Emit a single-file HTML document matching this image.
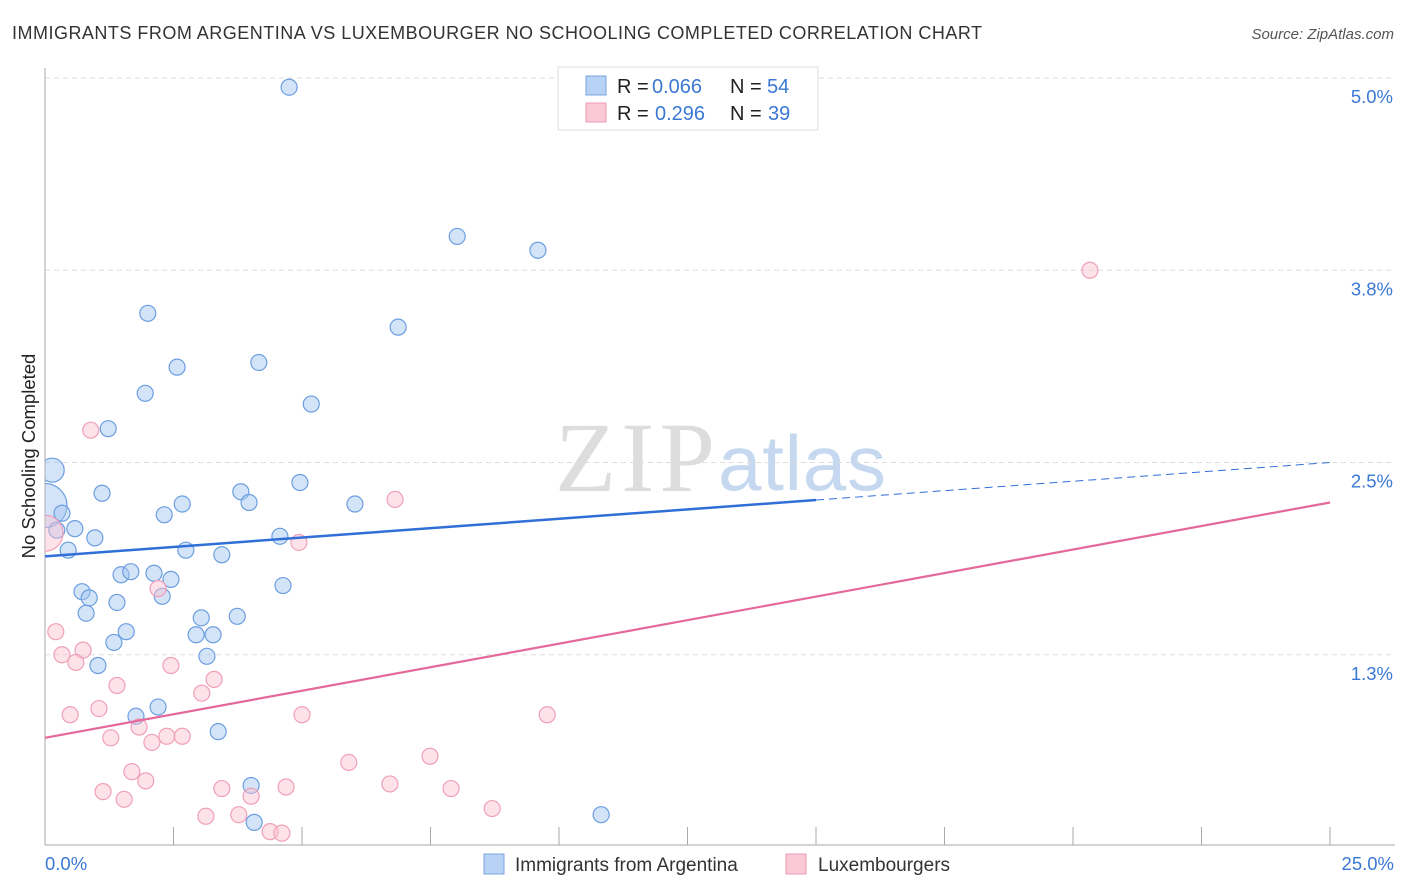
<!DOCTYPE html>
<html><head><meta charset="utf-8"><style>
body{margin:0;background:#fff;font-family:"Liberation Sans",sans-serif;}
svg{display:block}
</style></head><body>
<svg id="c" width="1406" height="892">
<defs><clipPath id="plot"><rect x="45" y="60" width="1360" height="785"/></clipPath></defs>
<text x="12" y="39" font-size="18" textLength="970" fill="#333">IMMIGRANTS FROM ARGENTINA VS LUXEMBOURGER NO SCHOOLING COMPLETED CORRELATION CHART</text>
<text x="1394" y="39" font-size="15" fill="#555" font-style="italic" text-anchor="end">Source: ZipAtlas.com</text>
<text x="0" y="0" transform="translate(35,456) rotate(-90)" font-size="18.5" fill="#222" text-anchor="middle">No Schooling Completed</text>
<g><text x="555" y="491" font-size="100" textLength="160" font-family="Liberation Serif,serif" fill="#ddd">ZIP</text><text x="718" y="490" font-size="78" textLength="168" fill="#c5d8ef">atlas</text></g>
<g id="grid"></g><g id="pts" clip-path="url(#plot)"></g><g id="lines"></g>
<g>
<rect x="558" y="67" width="260" height="63" fill="#fff" stroke="#ddd"/>
<rect x="586" y="76" width="20" height="19" fill="#b7d2f5" stroke="#7aa6e0"/>
<rect x="586" y="103" width="20" height="19" fill="#fbc8d6" stroke="#f09ab2"/>
<text x="617" y="93" font-size="20" fill="#222">R =</text><text x="652" y="93" font-size="20" fill="#3a78d4">0.066</text>
<text x="730" y="93" font-size="20" fill="#222">N =</text><text x="767" y="93" font-size="20" fill="#3a78d4">54</text>
<text x="617" y="120" font-size="20" fill="#222">R =</text><text x="655" y="120" font-size="20" fill="#3a78d4">0.296</text>
<text x="730" y="120" font-size="20" fill="#222">N =</text><text x="768" y="120" font-size="20" fill="#3a78d4">39</text>
</g>
<g>
<rect x="484" y="854" width="20" height="20" fill="#b7d2f5" stroke="#7aa6e0"/>
<text x="515" y="871" font-size="19" fill="#333">Immigrants from Argentina</text>
<rect x="786" y="854" width="20" height="20" fill="#fbc8d6" stroke="#f09ab2"/>
<text x="818" y="871" font-size="19" fill="#333">Luxembourgers</text>
</g>
</svg>
<script>
const xTicks=[0,25];
const yTicks=[1.25,2.5,3.75,5.0];
const yTickLabels=["1.3%","2.5%","3.8%","5.0%"];
const blueX=[4.75,8.02,9.59,2.00,6.87,2.57,4.16,1.95,5.18,1.23,0.14,0,0.33,0.58,1.11,2.67,2.32,3.81,3.97,4.96,6.03,0.97,0.23,0.45,2.74,3.44,4.57,1.48,1.67,2.12,2.45,2.28,0.72,0.86,1.40,4.63,0.80,3.04,3.74,1.58,1.34,2.94,3.27,3.15,1.03,2.20,1.77,3.37,4.01,4.07,10.82];
const blueY=[4.94,3.97,3.88,3.47,3.38,3.12,3.15,2.95,2.88,2.72,2.45,2.22,2.17,2.07,2.30,2.23,2.16,2.31,2.24,2.37,2.23,2.01,2.06,1.93,1.93,1.90,2.02,1.77,1.79,1.78,1.74,1.63,1.66,1.62,1.59,1.70,1.52,1.49,1.50,1.40,1.33,1.38,1.38,1.24,1.18,0.91,0.85,0.75,0.40,0.16,0.21];
const blueR=[8,8,8,8,8,8,8,8,8,8,12,22,8,8,8,8,8,8,8,8,8,8,8,8,8,8,8,8,8,8,8,8,8,8,8,8,8,8,8,8,8,8,8,8,8,8,8,8,8,8,8];
const pinkX=[20.33,0.89,6.81,4.94,0,2.20,0.21,0.33,0.74,0.60,2.45,1.40,3.29,3.05,0.49,1.05,5.00,9.77,1.28,1.83,2.08,2.37,2.67,5.91,7.49,1.69,1.96,1.13,1.54,3.44,4.01,4.69,6.71,7.90,8.70,3.13,3.77,4.38,4.61];
const pinkY=[3.75,2.71,2.26,1.98,2.04,1.68,1.40,1.25,1.28,1.20,1.18,1.05,1.09,1.00,0.86,0.90,0.86,0.86,0.71,0.78,0.68,0.72,0.72,0.55,0.59,0.49,0.43,0.36,0.31,0.38,0.33,0.39,0.41,0.38,0.25,0.20,0.21,0.10,0.09];
const pinkR=[8,8,8,8,18,8,8,8,8,8,8,8,8,8,8,8,8,8,8,8,8,8,8,8,8,8,8,8,8,8,8,8,8,8,8,8,8,8,8];
const blueTrend=[1.89,2.50];const blueSolidEnd=15;
const pinkTrend=[0.71,2.24];
const X=v=>45+v/25*1285, Y=v=>847-v/5*769;
const NS="http://www.w3.org/2000/svg";
function mk(p,t,a){const e=document.createElementNS(NS,t);for(const k in a)e.setAttribute(k,a[k]);p.appendChild(e);return e;}
const g=document.getElementById('grid');
yTicks.forEach((t,i)=>{const l=mk(g,'line',{x1:45,x2:1395,y1:Y(t),y2:Y(t),stroke:'#ddd','stroke-dasharray':'5,4'});


const tx=mk(g,'text',{x:1393,y:Y(t)+25,'font-size':18.5,fill:'#3a78d4','text-anchor':'end'});tx.textContent=yTickLabels[i];

});
const ax=mk(g,'line',{x1:45,x2:1395,y1:845,y2:845,stroke:'#aaa'});


const ay=mk(g,'line',{x1:45,x2:45,y1:68,y2:845,stroke:'#aaa'});


for(let i=1;i<=10;i++){const t=mk(g,'line',{x1:X(i*2.5),x2:X(i*2.5),y1:827,y2:845,stroke:'#aaa'});

}
xTicks.forEach((t,i)=>{const tx=mk(g,'text',{x:i?1394:45,y:870,'font-size':18.5,fill:'#3a78d4','text-anchor':i?'end':'start'});tx.textContent=t.toFixed(1)+'%';

});
const P=document.getElementById('pts');
blueX.forEach((x,i)=>{const c=mk(P,'circle',{cx:X(x),cy:Y(blueY[i]),r:blueR[i],fill:'rgba(160,196,240,0.45)',stroke:'#6b9ee0','stroke-width':1.2});

});
pinkX.forEach((x,i)=>{const c=mk(P,'circle',{cx:X(x),cy:Y(pinkY[i]),r:pinkR[i],fill:'rgba(250,190,208,0.45)',stroke:'#f0a0b8','stroke-width':1.2});

});
const L=document.getElementById('lines');
const by=x=>blueTrend[0]+(blueTrend[1]-blueTrend[0])*x/25;
const b1=mk(L,'line',{x1:X(0),y1:Y(by(0)),x2:X(blueSolidEnd),y2:Y(by(blueSolidEnd)),stroke:'#2f6fd6','stroke-width':2.5});


const b2=mk(L,'line',{x1:X(blueSolidEnd),y1:Y(by(blueSolidEnd)),x2:X(25),y2:Y(by(25)),stroke:'#2f6fd6','stroke-width':1,'stroke-dasharray':'8,5'});


const p1=mk(L,'line',{x1:X(0),y1:Y(pinkTrend[0]),x2:X(25),y2:Y(pinkTrend[1]),stroke:'#e4699a','stroke-width':2.2});


</script>
</body></html>
